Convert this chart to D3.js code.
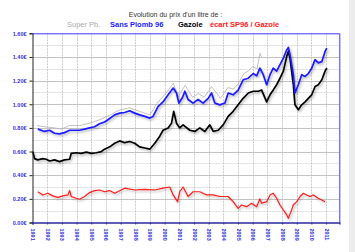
<!DOCTYPE html>
<html>
<head>
<meta charset="utf-8">
<script src="https://cdn.jsdelivr.net/npm/d3@7"></script>
<style>
  html, body { margin: 0; padding: 0; background: #fff; }
  svg { display: block; font-family: "Liberation Sans", Arial, sans-serif; }
</style>
</head>
<body>
<svg id="chart" width="355" height="252"></svg>
<script>
// years shown on the bottom axis
let years = d3.range(1991, 2012);
let priceTicks = [0, 0.2, 0.4, 0.6, 0.8, 1.0, 1.2, 1.4, 1.6];

// [year, price in €]
let superPb = [
  [1991.3, 0.82], [1991.8, 0.81], [1992.5, 0.80], [1993.0, 0.79], [1993.5, 0.82],
  [1994.2, 0.82], [1994.9, 0.84], [1995.6, 0.87], [1996.3, 0.91], [1996.9, 0.95],
  [1997.6, 0.97], [1998.3, 0.94], [1999.0, 0.91], [1999.5, 1.01], [2000.2, 1.11],
  [2000.6, 1.18], [2000.9, 1.06], [2001.4, 1.16], [2001.9, 1.06], [2002.3, 1.09],
  [2002.7, 1.06], [2003.2, 1.15], [2003.8, 1.05], [2004.3, 1.14], [2004.7, 1.13],
  [2005.0, 1.17], [2005.4, 1.26], [2005.7, 1.28], [2006.0, 1.32], [2006.3, 1.30],
  [2006.5, 1.43], [2006.6, 1.40]
];

let sansPlomb96 = [
  [1991.36, 0.79], [1991.82, 0.77], [1992.16, 0.78], [1992.50, 0.755], [1992.84, 0.75],
  [1993.18, 0.76], [1993.53, 0.78], [1993.87, 0.78], [1994.21, 0.78], [1994.55, 0.79],
  [1994.89, 0.80], [1995.23, 0.81], [1995.57, 0.835], [1995.91, 0.85], [1996.26, 0.88],
  [1996.60, 0.91], [1996.94, 0.925], [1997.28, 0.93], [1997.62, 0.945], [1997.96, 0.925],
  [1998.30, 0.91], [1998.65, 0.897], [1998.99, 0.883], [1999.21, 0.897], [1999.55, 0.98],
  [1999.89, 1.02], [2000.24, 1.08], [2000.58, 1.137], [2000.81, 1.095], [2000.97, 1.01],
  [2001.19, 1.05], [2001.38, 1.11], [2001.60, 1.04], [2001.94, 1.01], [2002.28, 1.04],
  [2002.62, 1.01], [2002.97, 1.05], [2003.20, 1.095], [2003.42, 1.01], [2003.76, 0.995],
  [2004.11, 1.01], [2004.33, 1.095], [2004.67, 1.08], [2005.01, 1.12], [2005.35, 1.207],
  [2005.70, 1.22], [2006.04, 1.26], [2006.27, 1.24], [2006.49, 1.305], [2006.72, 1.25],
  [2006.95, 1.165], [2007.18, 1.25], [2007.40, 1.305], [2007.63, 1.28], [2007.86, 1.335],
  [2008.09, 1.39], [2008.32, 1.46], [2008.43, 1.48], [2008.54, 1.42], [2008.77, 1.25],
  [2008.88, 1.095], [2009.11, 1.165], [2009.34, 1.25], [2009.57, 1.235], [2009.79, 1.26],
  [2010.02, 1.305], [2010.25, 1.377], [2010.47, 1.35], [2010.71, 1.36], [2010.93, 1.447],
  [2011.05, 1.475]
];

let gazole = [
  [1991.02, 0.60], [1991.14, 0.54], [1991.36, 0.53], [1991.70, 0.54], [1991.94, 0.535],
  [1992.16, 0.52], [1992.50, 0.53], [1992.84, 0.515], [1993.18, 0.53], [1993.53, 0.535],
  [1993.64, 0.585], [1993.98, 0.59], [1994.32, 0.585], [1994.67, 0.595], [1995.01, 0.585],
  [1995.35, 0.59], [1995.69, 0.60], [1995.91, 0.62], [1996.26, 0.64], [1996.60, 0.67],
  [1996.94, 0.69], [1997.28, 0.675], [1997.62, 0.685], [1997.96, 0.67], [1998.30, 0.64],
  [1998.65, 0.63], [1998.99, 0.62], [1999.33, 0.67], [1999.67, 0.73], [1999.89, 0.78],
  [2000.24, 0.80], [2000.47, 0.84], [2000.62, 0.94], [2000.81, 0.84], [2001.03, 0.80],
  [2001.26, 0.826], [2001.72, 0.78], [2002.06, 0.77], [2002.40, 0.80], [2002.74, 0.77],
  [2003.08, 0.826], [2003.31, 0.77], [2003.65, 0.78], [2003.99, 0.826], [2004.33, 0.897],
  [2004.67, 0.94], [2005.01, 0.995], [2005.35, 1.05], [2005.70, 1.095], [2006.04, 1.11],
  [2006.38, 1.11], [2006.61, 1.12], [2006.95, 1.02], [2007.18, 1.08], [2007.40, 1.12],
  [2007.63, 1.165], [2007.86, 1.22], [2008.09, 1.28], [2008.32, 1.405], [2008.43, 1.447],
  [2008.54, 1.39], [2008.77, 1.165], [2008.88, 0.995], [2009.11, 0.953], [2009.34, 0.995],
  [2009.57, 1.02], [2009.79, 1.05], [2010.02, 1.08], [2010.25, 1.15], [2010.47, 1.165],
  [2010.71, 1.207], [2010.93, 1.28], [2011.05, 1.305]
];

let ecart = [
  [1991.36, 0.26], [1991.70, 0.233], [1992.04, 0.247], [1992.39, 0.225], [1992.73, 0.213],
  [1993.07, 0.225], [1993.41, 0.233], [1993.53, 0.27], [1993.64, 0.22], [1993.98, 0.205],
  [1994.21, 0.197], [1994.55, 0.22], [1994.89, 0.253], [1995.23, 0.27], [1995.57, 0.275],
  [1995.91, 0.26], [1996.26, 0.27], [1996.60, 0.247], [1997.28, 0.29], [1997.96, 0.275],
  [1998.65, 0.28], [1999.33, 0.275], [1999.89, 0.29], [2000.35, 0.30], [2000.58, 0.233],
  [2000.88, 0.176], [2001.03, 0.26], [2001.26, 0.30], [2001.60, 0.22], [2001.94, 0.26],
  [2002.40, 0.26], [2002.86, 0.233], [2003.31, 0.233], [2003.76, 0.22], [2004.33, 0.22],
  [2004.67, 0.176], [2005.01, 0.12], [2005.24, 0.148], [2005.59, 0.134], [2005.93, 0.163],
  [2006.27, 0.134], [2006.49, 0.2], [2006.61, 0.163], [2006.95, 0.176], [2007.18, 0.233],
  [2007.40, 0.247], [2007.63, 0.205], [2007.86, 0.148], [2008.09, 0.106], [2008.32, 0.064],
  [2008.43, 0.036], [2008.61, 0.092], [2008.77, 0.148], [2009.00, 0.176], [2009.23, 0.22],
  [2009.45, 0.247], [2009.68, 0.233], [2009.91, 0.22], [2010.13, 0.233], [2010.47, 0.205],
  [2010.71, 0.19], [2010.93, 0.176]
];

let svg = d3.select("#chart");
let plotLeft = 32.5, plotRight = 339.3, plotTop = 33.3, plotBottom = 222.5;

// grey strip down the right edge of the screenshot
svg.append("rect")
  .attr("x", 349).attr("y", 0).attr("width", 6).attr("height", 252)
  .attr("fill", "#ececec");

let x = d3.scaleLinear().domain([1991, 2011.9]).range([plotLeft, plotRight]);
let y = d3.scaleLinear().domain([0, 1.6]).range([plotBottom, plotTop]);

let defs = svg.append("defs");
defs.append("filter")
  .attr("id", "shadow")
  .attr("x", "-10%").attr("y", "-10%").attr("width", "120%").attr("height", "130%")
  .append("feDropShadow")
  .attr("dx", 1.2).attr("dy", 1.6)
  .attr("stdDeviation", 0.8)
  .attr("flood-color", "#000")
  .attr("flood-opacity", 0.3);

// grid: every 0.1 horizontally, every year vertically
let grid = svg.append("g").attr("class", "grid");
grid.selectAll("line.h")
  .data(d3.range(1, 16).map(function(i) { return i / 10; }))
  .join("line")
  .attr("x1", plotLeft).attr("x2", plotRight)
  .attr("y1", function(d) { return Math.round(y(d)) + 0.5; })
  .attr("y2", function(d) { return Math.round(y(d)) + 0.5; })
  .attr("stroke", function(d) { return Math.round(d * 10) % 2 === 0 ? "#b4b4b4" : "#cfcfcf"; })
  .attr("stroke-width", 0.8)
  .attr("stroke-dasharray", function(d) { return Math.round(d * 10) % 2 === 0 ? null : "2,1"; });

grid.selectAll("line.v")
  .data(years.slice(1))
  .join("line")
  .attr("y1", plotTop).attr("y2", plotBottom)
  .attr("x1", function(d) { return Math.round(x(d)) + 0.5; })
  .attr("x2", function(d) { return Math.round(x(d)) + 0.5; })
  .attr("stroke", "#bdbdbd")
  .attr("stroke-width", 0.8)
  .attr("stroke-dasharray", "2,1");

// frame: blue on top and right
svg.append("path")
  .attr("d", "M" + plotLeft + "," + (plotTop + 0.5) + "H" + (plotRight + 0.5) + "V" + plotBottom)
  .attr("fill", "none")
  .attr("stroke", "#3a3aff")
  .attr("stroke-width", 1);

let line = d3.line()
  .x(function(d) { return x(d[0]); })
  .y(function(d) { return y(d[1]); });

let series = [
  { data: superPb, color: "#b0b0b0", width: 0.8, shadow: false },
  { data: ecart, color: "#ff1a1a", width: 1.2, shadow: true },
  { data: gazole, color: "#000", width: 1.7, shadow: true },
  { data: sansPlomb96, color: "#1a1aff", width: 1.7, shadow: true }
];

svg.append("g")
  .selectAll("path")
  .data(series)
  .join("path")
  .attr("d", function(d) { return line(d.data); })
  .attr("fill", "none")
  .attr("stroke", function(d) { return d.color; })
  .attr("stroke-width", function(d) { return d.width; })
  .attr("stroke-linejoin", "round")
  .attr("filter", function(d) { return d.shadow ? "url(#shadow)" : null; });

// y axis
let yAxis = svg.append("g")
  .attr("transform", "translate(" + plotLeft + ",0)")
  .call(d3.axisLeft(y).tickValues(priceTicks).tickSize(3)
    .tickFormat(function(d) { return d3.format(".2f")(d) + "€"; }));
yAxis.select(".domain").attr("stroke", "#222").attr("stroke-width", 1);
yAxis.selectAll(".tick line").attr("stroke", "#222");
yAxis.selectAll("text")
  .attr("x", -6)
  .attr("fill", "#3030d8")
  .attr("font-size", 5.5)
  .attr("font-weight", "bold");

// x axis
let xAxis = svg.append("g")
  .attr("transform", "translate(0," + plotBottom + ")")
  .call(d3.axisBottom(x).tickValues(years).tickSize(2).tickFormat(d3.format("d")));
xAxis.select(".domain").attr("stroke", "#2a2aa0").attr("stroke-width", 1.5);
xAxis.selectAll(".tick line").attr("stroke", "#2a2aa0");
xAxis.selectAll("text")
  .attr("transform", "rotate(90)")
  .attr("x", 6).attr("y", 0).attr("dy", "0.35em")
  .attr("text-anchor", "start")
  .attr("fill", "#3030d8")
  .attr("font-size", 5.5)
  .attr("font-weight", "bold");

// title and legend
svg.append("text")
  .attr("x", 175.5).attr("y", 16.5)
  .attr("text-anchor", "middle")
  .attr("font-size", 7)
  .attr("fill", "#333")
  .text("Evolution du prix d'un litre de :");

let legend = [
  { label: "Super Pb.", color: "#aaa", weight: "normal", x: 67 },
  { label: "Sans Plomb 96", color: "#1a1aff", weight: "bold", x: 110 },
  { label: "Gazole", color: "#000", weight: "bold", x: 178 },
  { label: "écart SP96 / Gazole", color: "#ff1a1a", weight: "bold", x: 210 }
];
svg.append("g")
  .selectAll("text")
  .data(legend)
  .join("text")
  .attr("x", function(d) { return d.x; })
  .attr("y", 26.8)
  .attr("font-size", 7.5)
  .attr("font-weight", function(d) { return d.weight; })
  .attr("fill", function(d) { return d.color; })
  .text(function(d) { return d.label; });
</script>
</body>
</html>
